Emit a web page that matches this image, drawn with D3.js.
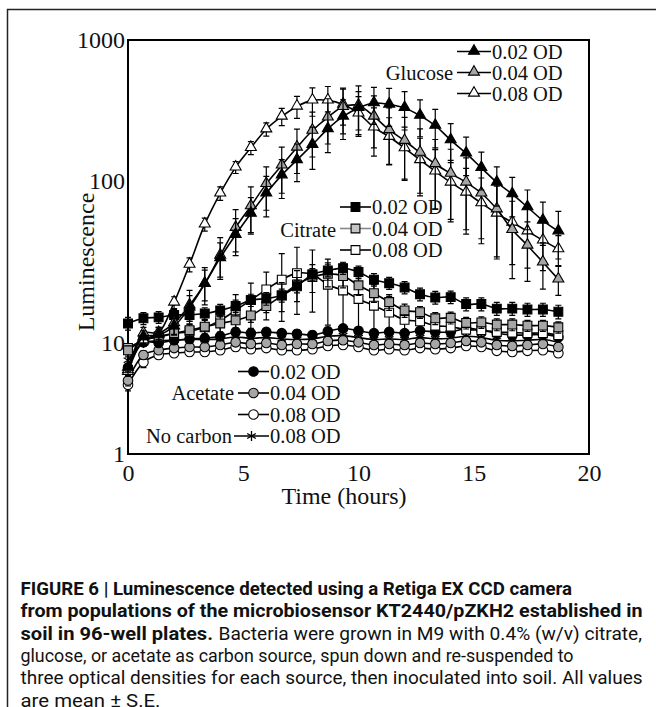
<!DOCTYPE html>
<html>
<head>
<meta charset="utf-8">
<script src="https://cdn.jsdelivr.net/npm/d3@7"></script>
<style>
  body { margin: 0; background: #fff; }
  svg text { font-family: "Liberation Serif", "Times New Roman", serif; fill: #111; }
  svg text.cap { font-family: "Liberation Sans Narrow", "Roboto", "Liberation Sans", sans-serif; }
</style>
</head>
<body>
<svg width="656" height="707"></svg>
<script>
// time points (hours), one reading every 40 min
const hours = [0, 0.67, 1.33, 2, 2.67, 3.33, 4, 4.67, 5.33, 6, 6.67, 7.33, 8, 8.67, 9.33,
  10, 10.67, 11.33, 12, 12.67, 13.33, 14, 14.67, 15.33, 16, 16.67, 17.33, 18, 18.67];

// glucose
const glucose02 = [6.0, 10.9, 11.2, 12.7, 16.6, 23.2, 33.5, 46.6, 63, 84, 110, 141, 181, 234, 287,
  330, 357, 349, 330, 291, 247, 195, 157, 124, 98, 83, 69, 57, 49];
const glucose02SE = [0.5, 1, 1, 1.5, 3, 5, 8, 12, 16, 24, 32, 42, 60, 75, 90,
  100, 105, 105, 100, 85, 75, 60, 48, 36, 28, 23, 19, 17, 16];
const glucose04 = [5.7, 11.5, 11.5, 13.3, 17.1, 23.2, 34.7, 51.5, 70, 96, 129, 173, 228, 283, 336,
  343, 287, 230, 193, 159, 132, 113, 98, 84, 67, 50, 40, 31.5, 24.7];
const glucose04SE = [0.5, 1, 1, 2, 4, 6, 10, 15, 22, 30, 45, 60, 80, 100, 120,
  130, 115, 100, 90, 75, 65, 55, 48, 40, 33, 25, 16, 10, 5];
const glucose08 = [5.5, 10.4, 11.5, 17.8, 30.5, 54, 84, 125, 172, 233, 287, 338, 373, 373, 349,
  302, 240, 206, 171, 141, 117, 98, 85, 73, 63, 55.5, 49, 43, 38];
const glucose08SE = [0.5, 1, 1, 1.5, 3, 5, 8, 12, 18, 25, 40, 60, 85, 95, 100,
  95, 90, 75, 70, 60, 50, 42, 38, 32, 30, 25, 20, 15, 8];

// citrate
const citrate02 = [13.2, 14.2, 14.4, 14.9, 14.9, 15.2, 15.9, 16.9, 18.4, 18.8, 19.7, 22.4, 26.5, 28.0, 29.0,
  27.4, 24.6, 23.4, 22.0, 20.0, 19.1, 19.2, 17.4, 17.4, 16.3, 16.3, 16.1, 16.1, 15.6];
const citrate02SE = [1.2, 1.2, 1.2, 1.2, 1.3, 1.3, 1.4, 1.5, 1.6, 1.7, 1.8, 2, 2.3, 2.4, 2.5,
  2.4, 2.2, 2, 1.9, 1.8, 1.7, 1.7, 1.6, 1.6, 1.5, 1.5, 1.5, 1.5, 1.5];
const citrate04 = [8.6, 10.4, 11.0, 11.5, 12.0, 12.6, 13.2, 13.8, 14.8, 16.9, 19.6, 23.0, 25.5, 26.7, 25.9,
  22.7, 20.3, 17.9, 15.9, 15.5, 14.2, 14.3, 13.3, 13.4, 13.0, 13.0, 12.8, 12.8, 12.5];
const citrate04SE = [0.8, 0.9, 1, 1, 1.1, 1.2, 1.5, 2, 2.5, 3, 4, 5, 5, 4.5, 4,
  3, 2.5, 2, 1.5, 1.3, 1.2, 1.2, 1.1, 1.1, 1.1, 1.1, 1, 1, 1];
const citrate08 = [9.0, 10.4, 10.9, 11.4, 11.8, 12.5, 13.8, 15.9, 18.4, 21.4, 24.6, 27.0, 26.5, 22.9, 21.1,
  18.7, 17.0, 15.4, 13.9, 13.6, 12.8, 12.6, 12.1, 12.0, 11.7, 11.6, 11.5, 11.5, 11.2];
const citrate08SE = [0.8, 0.9, 1, 1, 1.2, 1.5, 2.5, 4, 5, 6, 11, 12, 11, 10, 10,
  7, 6, 4, 2.5, 1.5, 1.2, 1.2, 1.1, 1, 1, 1, 1, 1, 1];

// acetate and no carbon
const acetate02 = [6.0, 10.1, 10.0, 10.4, 10.6, 10.7, 11.0, 11.7, 11.5, 11.7, 11.5, 11.4, 11.2, 11.8, 12.3,
  11.9, 11.5, 11.7, 11.5, 11.9, 11.7, 11.7, 12.3, 12.0, 11.5, 11.2, 11.2, 11.3, 10.9];
const acetate04 = [4.6, 7.8, 8.6, 9.0, 9.2, 9.2, 9.6, 10.1, 9.8, 10.0, 9.6, 9.8, 9.8, 10.3, 10.4,
  10.1, 9.6, 9.8, 9.6, 10.0, 9.8, 10.0, 10.3, 10.1, 9.6, 9.4, 9.6, 9.8, 9.2];
const acetate08 = [4.2, 6.7, 7.8, 8.1, 8.3, 8.3, 8.6, 9.2, 8.8, 9.0, 8.6, 8.6, 8.8, 9.4, 9.6,
  9.2, 8.6, 8.8, 8.6, 9.0, 8.8, 9.0, 9.4, 9.2, 8.5, 8.3, 8.5, 8.6, 8.1];
const noCarbon08 = [7.0, 10.0, 10.3, 10.4, 10.5, 10.5, 10.6, 10.9, 10.7, 10.8, 10.6, 10.5, 10.6, 11.0, 11.1,
  10.8, 10.5, 10.6, 10.5, 10.8, 10.6, 10.7, 11.0, 10.8, 10.4, 10.3, 10.4, 10.5, 10.1];
const acetateSE = [0.5, 0.7, 0.6, 0.6, 0.6, 0.6, 0.6, 0.7, 0.6, 0.6, 0.6, 0.6, 0.6, 0.7, 0.7,
  0.6, 0.6, 0.6, 0.6, 0.6, 0.6, 0.6, 0.7, 0.6, 0.6, 0.6, 0.6, 0.6, 0.6];

const xTicks = [0, 5, 10, 15, 20];
const yTicks = [1, 10, 100, 1000];
const odLabels = ['0.02 OD', '0.04 OD', '0.08 OD'];

const GRAY = '#a6a6a6';

const svg = d3.select('svg');

const x = d3.scaleLinear().domain([0, 20]).range([128, 589]);
// the printed axis has uneven decades, so map log10 piecewise onto the label positions
const yLog = d3.scaleLinear().domain([0, 1, 2, 3]).range([454, 343, 181, 40]);
const y = v => yLog(Math.log10(v));

// outer figure border
svg.append('path')
    .attr('d', 'M7.5,707V9.5H656')
    .attr('fill', 'none')
    .attr('stroke', '#222')
    .attr('stroke-width', 1.5);

// plot frame
svg.append('rect')
    .attr('x', x(0)).attr('y', yLog(3))
    .attr('width', x(20) - x(0)).attr('height', yLog(0) - yLog(3))
    .attr('fill', 'none')
    .attr('stroke', '#000')
    .attr('stroke-width', 2);

// axes
const gx = svg.append('g')
    .attr('transform', 'translate(0,' + yLog(0) + ')')
    .call(d3.axisBottom(x).tickValues(xTicks).tickSize(0).tickPadding(10));
gx.select('.domain').remove();
gx.selectAll('text').attr('font-size', 24).attr('font-family', null).attr('fill', '#111');

const gy = svg.append('g')
    .attr('transform', 'translate(' + x(0) + ',0)')
    .call(d3.axisLeft(yLog).tickValues(yTicks.map(Math.log10)).tickSize(0).tickPadding(3)
        .tickFormat((d, i) => String(yTicks[i])));
gy.select('.domain').remove();
gy.selectAll('text').attr('font-size', 24).attr('font-family', null).attr('fill', '#111');

svg.append('text')
    .attr('x', 344).attr('y', 504)
    .attr('text-anchor', 'middle')
    .attr('font-size', 24)
    .text('Time (hours)');

svg.append('text')
    .attr('transform', 'translate(94,262) rotate(-90)')
    .attr('text-anchor', 'middle')
    .attr('font-size', 24)
    .text('Luminescence');

// markers
const asterisk = 'M0,-5V5M-4.3,-2.5L4.3,2.5M-4.3,2.5L4.3,-2.5';
function drawMarker(g, shape, fill, cx, cy) {
    if (shape === 'star') {
        g.append('path')
            .attr('transform', 'translate(' + cx + ',' + cy + ')')
            .attr('d', asterisk)
            .attr('fill', 'none')
            .attr('stroke', '#000')
            .attr('stroke-width', 1.3);
        return;
    }
    const type = shape === 'tri' ? d3.symbolTriangle : shape === 'sq' ? d3.symbolSquare : d3.symbolCircle;
    const size = shape === 'tri' ? 52 : shape === 'sq' ? 78 : 72;
    g.append('path')
        .attr('transform', 'translate(' + cx + ',' + (shape === 'tri' ? cy - 0.5 : cy) + ')')
        .attr('d', d3.symbol().type(type).size(size)())
        .attr('fill', fill)
        .attr('stroke', '#000')
        .attr('stroke-width', 1.1);
}

const line = d3.line()
    .x((d, i) => x(hours[i]))
    .y(d => y(d))
    .curve(d3.curveCatmullRom.alpha(0.5));

const series = [
    { vals: acetate08, se: acetateSE, shape: 'circle', fill: '#fff' },
    { vals: noCarbon08, se: acetateSE, shape: 'star', fill: 'none' },
    { vals: acetate04, se: acetateSE, shape: 'circle', fill: GRAY },
    { vals: acetate02, se: acetateSE, shape: 'circle', fill: '#000' },
    { vals: citrate08, se: citrate08SE, shape: 'sq', fill: '#fff' },
    { vals: citrate04, se: citrate04SE, shape: 'sq', fill: GRAY },
    { vals: citrate02, se: citrate02SE, shape: 'sq', fill: '#000' },
    { vals: glucose08, se: glucose08SE, shape: 'tri', fill: '#fff' },
    { vals: glucose04, se: glucose04SE, shape: 'tri', fill: GRAY },
    { vals: glucose02, se: glucose02SE, shape: 'tri', fill: '#000' }
];

const plot = svg.append('g');
series.forEach(s => {
    const g = plot.append('g');
    // error bars: mean +/- SE
    s.vals.forEach((v, i) => {
        const cx = x(hours[i]);
        const y1 = y(v + s.se[i]);
        const y2 = y(Math.max(v - s.se[i], 1.02));
        g.append('path')
            .attr('d', `M${cx},${y1}V${y2}M${cx - 3},${y1}H${cx + 3}M${cx - 3},${y2}H${cx + 3}`)
            .attr('fill', 'none')
            .attr('stroke', '#000')
            .attr('stroke-width', 1.2);
    });
    g.append('path')
        .datum(s.vals)
        .attr('d', line)
        .attr('fill', 'none')
        .attr('stroke', '#000')
        .attr('stroke-width', 1.6);
    s.vals.forEach((v, i) => drawMarker(g, s.shape, s.fill, x(hours[i]), y(v)));
});

// legends
function legendBlock(title, titleY, rows) {
    const g = svg.append('g');
    rows.forEach(r => {
        g.append('line')
            .attr('x1', r.x0).attr('x2', r.x1)
            .attr('y1', r.base - 7).attr('y2', r.base - 7)
            .attr('stroke', r.lineColor || '#000')
            .attr('stroke-width', 1.6);
        drawMarker(g, r.shape, r.fill, (r.x0 + r.x1) / 2, r.base - 7);
        g.append('text')
            .attr('x', r.x1 + 1).attr('y', r.base)
            .attr('font-size', 20.5)
            .text(r.label);
        if (r.title) {
            g.append('text')
                .attr('x', r.x0 - 2).attr('y', r.base)
                .attr('text-anchor', 'end')
                .attr('font-size', 20.5)
                .text(r.title);
        }
    });
    if (title) {
        g.append('text')
            .attr('x', rows[0].x0 - 4).attr('y', titleY)
            .attr('text-anchor', 'end')
            .attr('font-size', 20.5)
            .text(title);
    }
}

legendBlock('Glucose', 80, [
    { x0: 457, x1: 491, base: 58.5, shape: 'tri', fill: '#000', label: odLabels[0] },
    { x0: 457, x1: 491, base: 79.5, shape: 'tri', fill: GRAY, label: odLabels[1] },
    { x0: 457, x1: 491, base: 100.5, shape: 'tri', fill: '#fff', label: odLabels[2] }
]);
legendBlock('Citrate', 237, [
    { x0: 340, x1: 371, base: 214, shape: 'sq', fill: '#000', label: odLabels[0] },
    { x0: 340, x1: 371, base: 235.5, shape: 'sq', fill: '#c4c4c4', label: odLabels[1], lineColor: '#888' },
    { x0: 340, x1: 371, base: 257, shape: 'sq', fill: '#fff', label: odLabels[2] }
]);
legendBlock('Acetate', 400, [
    { x0: 238, x1: 269, base: 378.5, shape: 'circle', fill: '#000', label: odLabels[0] },
    { x0: 238, x1: 269, base: 400, shape: 'circle', fill: GRAY, label: odLabels[1] },
    { x0: 238, x1: 269, base: 421.5, shape: 'circle', fill: '#fff', label: odLabels[2] },
    { x0: 234, x1: 269, base: 443, shape: 'star', fill: 'none', label: odLabels[2], title: 'No carbon' }
]);

// caption
const captionLines = [
    { text: 'FIGURE 6 | Luminescence detected using a Retiga EX CCD camera', bold: true, x: 20.5, w: 551.5, row: 0 },
    { text: 'from populations of the microbiosensor KT2440/pZKH2 established in', bold: true, x: 20.5, w: 622, row: 1 },
    { text: 'soil in 96-well plates.', bold: true, x: 20.5, w: 192.5, row: 2 },
    { text: 'Bacteria were grown in M9 with 0.4% (w/v) citrate,', bold: false, x: 218.5, w: 423.5, row: 2 },
    { text: 'glucose, or acetate as carbon source, spun down and re-suspended to', bold: false, x: 20.5, w: 553, row: 3 },
    { text: 'three optical densities for each source, then inoculated into soil. All values', bold: false, x: 20.5, w: 622, row: 4 },
    { text: 'are mean \u00b1 S.E.', bold: false, x: 20.5, w: 140, row: 5 }
];
svg.append('g').selectAll('text')
    .data(captionLines)
    .join('text')
    .attr('class', 'cap')
    .attr('x', d => d.x)
    .attr('y', d => 595 + d.row * 22.3)
    .attr('font-size', 18.5)
    .attr('font-weight', d => d.bold ? 700 : 400)
    .attr('textLength', d => d.w)
    .attr('lengthAdjust', 'spacingAndGlyphs')
    .text(d => d.text);
</script>
</body>
</html>
